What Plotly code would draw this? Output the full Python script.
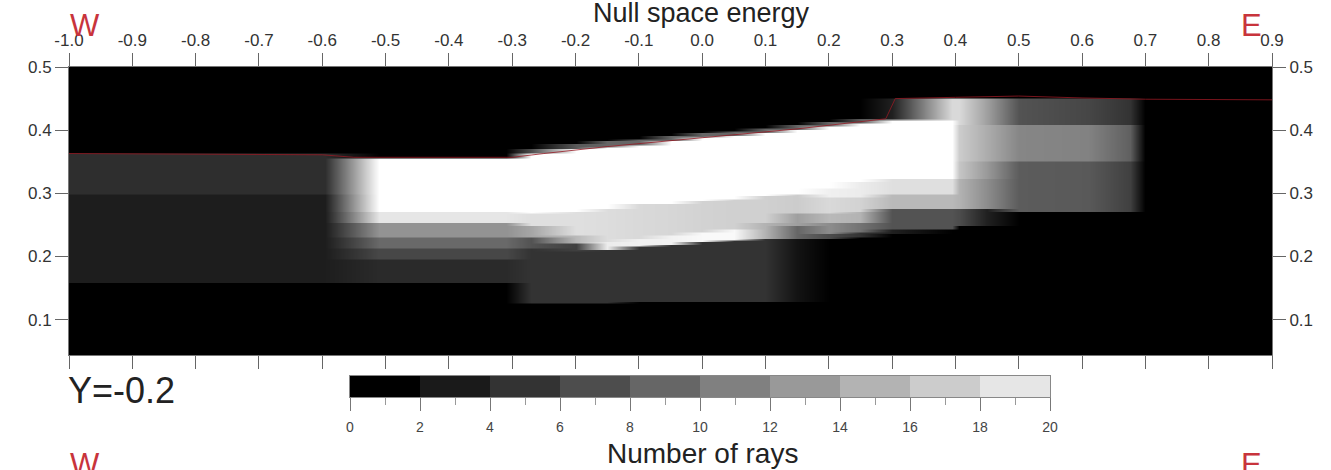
import numpy as np
import plotly.graph_objects as go

# ---------------- data ----------------
# x positions of the column profiles
KEY_X = [-1.0, -0.595, -0.51, -0.31, -0.27, -0.20, -0.15, -0.10, -0.05, 0.00,
         0.05, 0.10, 0.15, 0.20, 0.25, 0.30, 0.395, 0.405, 0.45, 0.50,
         0.61, 0.675, 0.70, 0.90]

# number of rays in each column: (lower y bound of band, value), listed from top (0.5) down
PROFILES = [
    [(0.363, 0), (0.300, 3.6), (0.160, 2.3), (0, 0)],                                   # -1.0
    [(0.363, 0), (0.300, 3.6), (0.160, 2.3), (0, 0)],                                   # -0.595
    [(0.356, 0), (0.272, 20), (0.253, 18), (0.232, 11.5), (0.215, 8.2), (0.197, 5.6), (0.160, 3.3), (0, 0)],
    [(0.356, 0), (0.272, 20), (0.253, 18), (0.232, 11.5), (0.215, 8.2), (0.197, 5.6), (0.160, 3.3), (0, 0)],
    [(0.372, 0), (0.363, 6), (0.269, 20), (0.248, 17.5), (0.232, 13), (0.215, 6.5), (0.126, 4), (0, 0)],
    [(0.380, 0), (0.371, 7), (0.272, 20), (0.235, 17.5), (0.221, 14.5), (0.210, 5), (0.126, 4), (0, 0)],
    [(0.384, 0), (0.374, 8), (0.276, 20), (0.224, 17.3), (0.211, 18.5), (0.127, 4), (0, 0)],
    [(0.387, 0), (0.377, 8), (0.283, 20), (0.229, 17), (0.216, 18.8), (0.128, 4), (0, 0)],
    [(0.392, 0), (0.383, 8), (0.285, 20), (0.235, 16.8), (0.220, 19), (0.128, 4), (0, 0)],
    [(0.396, 0), (0.388, 8), (0.288, 20), (0.240, 16.5), (0.224, 19.5), (0.128, 4), (0, 0)],
    [(0.400, 0), (0.392, 8), (0.291, 20), (0.243, 16.3), (0.226, 19.5), (0.128, 4), (0, 0)],
    [(0.405, 0), (0.397, 8), (0.296, 20), (0.253, 16.3), (0.230, 14), (0.128, 4), (0, 0)],
    [(0.409, 0), (0.402, 8), (0.300, 20), (0.269, 16), (0.248, 12.5), (0.229, 8), (0.128, 1.5), (0, 0)],
    [(0.414, 0), (0.407, 8), (0.310, 20), (0.293, 18.8), (0.270, 17), (0.253, 14.5), (0.237, 11), (0.230, 6), (0, 0)],
    [(0.418, 0), (0.412, 7), (0.318, 20), (0.295, 18.5), (0.272, 16.5), (0.255, 14), (0.240, 9), (0.232, 4), (0, 0)],
    [(0.452, 0), (0.420, 2.5), (0.416, 8), (0.323, 20), (0.298, 17.5), (0.277, 14.5), (0.245, 6.5), (0.237, 2.5), (0, 0)],
    [(0.452, 0), (0.416, 17), (0.325, 20), (0.299, 17.5), (0.277, 14.5), (0.245, 6.5), (0, 0)],
    [(0.452, 0), (0.410, 17), (0.352, 16), (0.325, 15.5), (0.277, 14), (0.248, 6), (0, 0)],
    [(0.452, 0), (0.408, 12.5), (0.352, 13.5), (0.325, 12), (0.277, 11), (0.250, 2.5), (0, 0)],
    [(0.452, 0), (0.408, 6.5), (0.352, 10.5), (0.272, 7.2), (0, 0)],
    [(0.452, 0), (0.408, 5.5), (0.352, 10.2), (0.272, 7), (0, 0)],
    [(0.452, 0), (0.408, 4), (0.352, 7.5), (0.272, 5), (0, 0)],
    [(0, 0)],
    [(0, 0)],
]

# thin red boundary line
BOUND_X = [-1.0, -0.6, -0.55, -0.3, -0.25, -0.15, 0.0, 0.15, 0.29, 0.305, 0.40, 0.50, 0.60, 0.70, 0.90]
BOUND_Y = [0.363, 0.361, 0.357, 0.357, 0.363, 0.374, 0.388, 0.402, 0.418, 0.450, 0.452, 0.454, 0.451, 0.449, 0.448]

# axis ticks
X_TICKS = [-1.0, -0.9, -0.8, -0.7, -0.6, -0.5, -0.4, -0.3, -0.2, -0.1,
           0.0, 0.1, 0.2, 0.3, 0.4, 0.5, 0.6, 0.7, 0.8, 0.9]
X_TICK_TEXT = ["-1.0", "-0.9", "-0.8", "-0.7", "-0.6", "-0.5", "-0.4", "-0.3", "-0.2", "-0.1",
               "0.0", "0.1", "0.2", "0.3", "0.4", "0.5", "0.6", "0.7", "0.8", "0.9"]
Y_TICKS = [0.1, 0.2, 0.3, 0.4, 0.5]
Y_TICK_TEXT = ["0.1", "0.2", "0.3", "0.4", "0.5"]

# colour bar bins (number of rays)
CB_LOWER = [0, 2, 4, 6, 8, 10, 12, 14, 16, 18]
CB_WIDTH = 2

# ---------------- build the grid ----------------
y_rows = np.round(np.arange(0.04, 0.5001, 0.0025), 5)
z = np.zeros((len(y_rows), len(KEY_X)))
for j, prof in enumerate(PROFILES):
    for i, yv in enumerate(y_rows):
        for bottom, val in prof:
            if yv >= bottom:
                z[i, j] = val
                break

W, H = 1331, 470
FONT = "Liberation Sans, Arial, Helvetica, sans-serif"
gray = [[0, "#000000"], [1, "#ffffff"]]

fig = go.Figure()
fig.add_trace(go.Heatmap(
    x=KEY_X, y=y_rows, z=z, colorscale=gray, zmin=0, zmax=20,
    zsmooth="best", showscale=False, xaxis="x", yaxis="y", hoverinfo="skip"))
fig.add_trace(go.Scatter(
    x=BOUND_X, y=BOUND_Y, mode="lines",
    line=dict(color="rgba(150,25,35,0.8)", width=1),
    xaxis="x", yaxis="y2", hoverinfo="skip", showlegend=False))
fig.add_trace(go.Heatmap(
    x=[v + CB_WIDTH / 2 for v in CB_LOWER], y=[0], z=[CB_LOWER],
    colorscale=gray, zmin=0, zmax=20, showscale=False,
    xaxis="x2", yaxis="y3", hoverinfo="skip"))

x0, x1 = 69 / W, 1272 / W
ytop, ybot = 67, 355
main_dom = [(H - ybot) / H, (H - ytop) / H]
tickfont = dict(family=FONT, size=17, color="#333333")

fig.update_layout(
    width=W, height=H,
    margin=dict(l=0, r=0, t=0, b=0, pad=0, autoexpand=False),
    paper_bgcolor="white", plot_bgcolor="black",
    font=dict(family=FONT),
    showlegend=False,
    xaxis=dict(domain=[x0, x1], range=[-1.0, 0.9], side="top", anchor="y",
               tickmode="array", tickvals=X_TICKS, ticktext=X_TICK_TEXT,
               ticks="outside", ticklen=13, tickwidth=1, tickcolor="#666666",
               showline=True, linecolor="#777777", linewidth=1, mirror="ticks",
               showgrid=False, zeroline=False, tickfont=tickfont, automargin=False),
    yaxis=dict(domain=main_dom, range=[0.044, 0.5], anchor="x",
               tickmode="array", tickvals=Y_TICKS, ticktext=Y_TICK_TEXT,
               ticks="outside", ticklen=13, tickwidth=1, tickcolor="#666666",
               showline=True, linecolor="#777777", linewidth=1, mirror=True,
               showgrid=False, zeroline=False, tickfont=tickfont, automargin=False),
    yaxis2=dict(overlaying="y", side="right", anchor="x", range=[0.044, 0.5],
                tickmode="array", tickvals=Y_TICKS, ticktext=Y_TICK_TEXT,
                ticks="outside", ticklen=13, tickwidth=1, tickcolor="#666666",
                showline=False, showgrid=False, zeroline=False, tickfont=tickfont,
                automargin=False),
    xaxis2=dict(domain=[350 / W, 1050 / W], anchor="y3", range=[0, 20],
                tickmode="linear", tick0=0, dtick=2,
                ticks="outside", ticklen=13, tickwidth=1, tickcolor="#777777",
                minor=dict(dtick=1, tick0=0, ticks="outside", ticklen=7, tickcolor="#999999"),
                showline=True, linecolor="#888888", linewidth=1, mirror=True,
                showgrid=False, zeroline=False, automargin=False, ticklabelstandoff=4,
                tickfont=dict(family=FONT, size=14, color="#444444")),
    yaxis3=dict(domain=[(H - 397) / H, (H - 376) / H], anchor="x2", range=[-0.5, 0.5],
                showticklabels=False, ticks="", showline=True, linecolor="#888888",
                linewidth=1, mirror=True, showgrid=False, zeroline=False, automargin=False),
)

red = "#c8343c"
annos = [
    dict(text="Null space energy", x=701 / W, y=(H - 13) / H, size=27, color="#222222", xanchor="center"),
    dict(text="W", x=85 / W, y=(H - 26) / H, size=31, color=red, xanchor="center"),
    dict(text="E", x=1251 / W, y=(H - 25) / H, size=31, color=red, xanchor="center"),
    dict(text="Y=-0.2", x=66 / W, y=(H - 390) / H, size=36, color="#222222", xanchor="left"),
    dict(text="Number of rays", x=702 / W, y=(H - 453) / H, size=28, color="#222222", xanchor="center"),
    dict(text="W", x=85 / W, y=(H - 464) / H, size=31, color=red, xanchor="center"),
    dict(text="E", x=1251 / W, y=(H - 464) / H, size=31, color=red, xanchor="center"),
]
for a in annos:
    fig.add_annotation(text=a["text"], x=a["x"], y=a["y"], xref="paper", yref="paper",
                       xanchor=a["xanchor"], yanchor="middle", showarrow=False,
                       font=dict(family=FONT, size=a["size"], color=a["color"]))

fig.write_html("out.html")
